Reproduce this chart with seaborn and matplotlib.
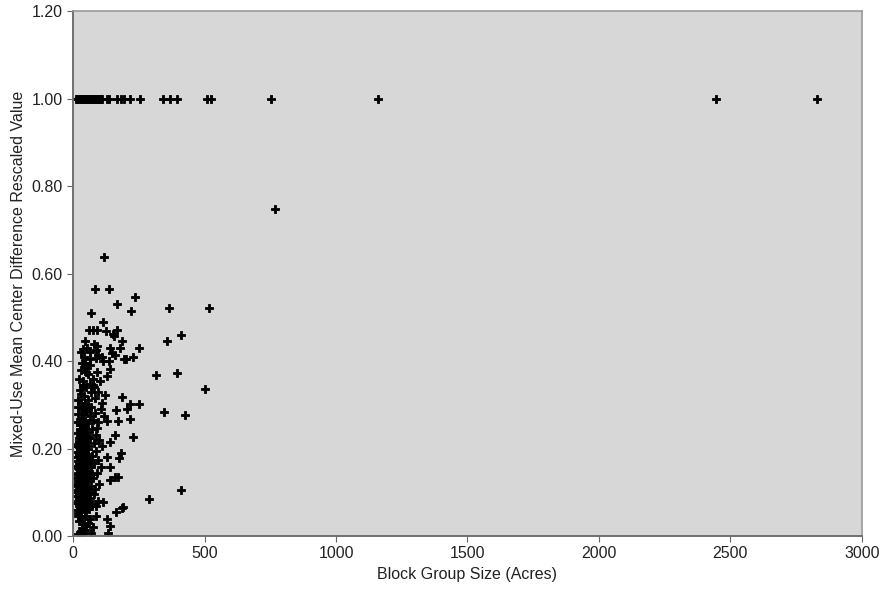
import pandas as pd
import matplotlib
matplotlib.use("Agg")
import matplotlib.pyplot as plt
import seaborn as sns
from matplotlib.ticker import FormatStrFormatter

# Block groups that hit the cap (rescaled value = 1.0)
top_x = [10, 15, 20, 25, 30, 35, 40, 45, 50, 55, 60, 65, 70, 75, 80, 85, 90, 95, 100, 105, 110,
         130, 137, 167, 180, 194, 217, 255, 342, 369, 395, 510, 525, 753, 1160, 2445, 2829]
top_y = [1.0] * len(top_x)

# Dense cluster of small block groups
cluster_x = [18, 25, 32, 38, 44, 50, 58, 22, 30, 40, 47, 62, 74, 85,
             10, 15, 20, 24, 28, 32, 35, 40, 44, 48, 52, 56, 60, 65, 70, 78, 88, 12, 18, 26, 38, 55, 95, 46,
             12, 16, 20, 24, 28, 32, 36, 40, 44, 48, 52, 56, 60, 64, 68, 75, 82, 90, 100, 14, 22, 30, 34, 42,
             46, 54, 38, 26, 72, 18,
             10, 14, 18, 22, 26, 30, 34, 38, 42, 46, 50, 54, 58, 62, 66, 72, 80, 86, 95, 105, 16, 24, 28, 36,
             44, 48, 40, 20, 32, 56,
             12, 16, 20, 24, 28, 32, 36, 40, 44, 48, 52, 58, 64, 70, 78, 88, 100, 22, 30, 38, 46, 55, 92, 110,
             15, 20, 25, 30, 35, 40, 45, 50, 56, 62, 68, 75, 84, 95, 105, 118, 18, 42, 58, 130,
             18, 24, 30, 36, 42, 50, 58, 66, 74, 82, 95, 108, 28, 46,
             22, 30, 38, 46, 55, 64, 75, 90, 35, 102,
             30, 40, 52, 64, 78, 96, 86, 45,
             14, 20, 26, 32, 38, 44, 16, 22, 28, 34, 40, 14, 20, 26, 32, 38, 18, 24, 30, 36]
cluster_y = [0.004, 0.010, 0.018, 0.006, 0.014, 0.022, 0.030, 0.035, 0.042, 0.028, 0.046, 0.040, 0.020, 0.045,
             0.075, 0.060, 0.080, 0.055, 0.090, 0.065, 0.078, 0.095, 0.058, 0.085, 0.070, 0.098, 0.062, 0.088,
             0.074, 0.095, 0.068, 0.092, 0.052, 0.072, 0.083, 0.078, 0.080, 0.065,
             0.100, 0.120, 0.140, 0.110, 0.130, 0.105, 0.145, 0.120, 0.135, 0.110, 0.148, 0.125, 0.100, 0.140,
             0.115, 0.132, 0.108, 0.145, 0.120, 0.132, 0.125, 0.118, 0.138, 0.102, 0.128, 0.112, 0.108, 0.148,
             0.142, 0.105,
             0.160, 0.180, 0.155, 0.190, 0.170, 0.185, 0.160, 0.195, 0.175, 0.152, 0.188, 0.165, 0.198, 0.172,
             0.158, 0.182, 0.166, 0.195, 0.175, 0.158, 0.192, 0.162, 0.198, 0.178, 0.190, 0.168, 0.158, 0.172,
             0.168, 0.182,
             0.210, 0.235, 0.205, 0.245, 0.220, 0.240, 0.208, 0.228, 0.248, 0.215, 0.238, 0.205, 0.225, 0.245,
             0.212, 0.232, 0.220, 0.225, 0.212, 0.242, 0.202, 0.225, 0.248, 0.205,
             0.260, 0.280, 0.255, 0.290, 0.270, 0.298, 0.262, 0.285, 0.258, 0.275, 0.295, 0.265, 0.282, 0.260,
             0.290, 0.275, 0.295, 0.278, 0.292, 0.262,
             0.310, 0.335, 0.305, 0.345, 0.320, 0.340, 0.310, 0.330, 0.345, 0.315, 0.330, 0.305, 0.325, 0.302,
             0.360, 0.380, 0.355, 0.385, 0.370, 0.390, 0.360, 0.375, 0.395, 0.355,
             0.420, 0.410, 0.430, 0.405, 0.440, 0.415, 0.425, 0.445,
             0.115, 0.125, 0.095, 0.150, 0.135, 0.175, 0.205, 0.185, 0.165, 0.215, 0.195, 0.075, 0.045, 0.115,
             0.230, 0.255, 0.145, 0.088, 0.265, 0.125]

# Scattered points to the right / above the cluster
spread_x = [118, 82, 135, 234, 168, 67, 219, 364, 518, 115, 60, 77, 92, 123, 151, 168, 155, 186, 356, 411,
            37, 62, 92, 141, 179, 250, 148, 160, 87, 110, 115, 135, 194, 200, 229, 46, 46, 48, 141, 128,
            314, 394, 37, 62, 80, 500, 122, 185, 250, 217, 346, 427, 163, 204, 217, 171, 229, 160, 141, 181,
            176, 130, 141, 160, 172, 141, 409, 290, 191, 185, 163, 115, 128, 141, 134, 68, 768]
spread_y = [0.638, 0.564, 0.564, 0.547, 0.530, 0.511, 0.514, 0.522, 0.522, 0.490, 0.472, 0.472, 0.471, 0.469,
            0.463, 0.471, 0.458, 0.446, 0.446, 0.459, 0.427, 0.421, 0.434, 0.429, 0.431, 0.430, 0.418, 0.414,
            0.408, 0.410, 0.400, 0.400, 0.404, 0.405, 0.410, 0.396, 0.387, 0.376, 0.383, 0.366, 0.368, 0.373,
            0.345, 0.348, 0.340, 0.337, 0.322, 0.317, 0.302, 0.303, 0.284, 0.277, 0.288, 0.290, 0.267, 0.262,
            0.227, 0.231, 0.215, 0.190, 0.178, 0.180, 0.157, 0.136, 0.136, 0.127, 0.105, 0.085, 0.066, 0.063,
            0.056, 0.078, 0.040, 0.023, 0.006, 0.006, 0.747]

df = pd.DataFrame({
    'Block Group Size (Acres)': top_x + cluster_x + spread_x,
    'Rescaled Value': top_y + cluster_y + spread_y,
})

sns.set_theme(style="ticks")
plt.rcParams['font.family'] = ['Liberation Sans', 'DejaVu Sans']

fig = plt.figure(figsize=(8.82, 5.91), dpi=100)
ax = fig.add_axes([0.083, 0.093, 0.894, 0.888])
ax.set_facecolor('#d7d7d7')

sns.scatterplot(data=df, x='Block Group Size (Acres)', y='Rescaled Value', ax=ax,
                marker='P', s=38, color='black', edgecolor='black', linewidth=0.6)

ax.set_xlim(0, 3000)
ax.set_ylim(0, 1.2)
ax.set_xticks(range(0, 3001, 500))
ax.set_yticks([0, 0.2, 0.4, 0.6, 0.8, 1.0, 1.2])
ax.yaxis.set_major_formatter(FormatStrFormatter('%.2f'))
ax.tick_params(labelsize=11.5, length=4, width=0.8, colors='#666666', labelcolor='#222222')

for side in ['left', 'bottom']:
    ax.spines[side].set_color('#707070')
    ax.spines[side].set_linewidth(1.4)
for side in ['right', 'top']:
    ax.spines[side].set_visible(True)
    ax.spines[side].set_color('#9a9a9a')
    ax.spines[side].set_linewidth(1.2)

ax.set_xlabel('Block Group Size (Acres)', fontsize=11.5, color='#222222')
ax.set_ylabel('Mixed-Use Mean Center Difference Rescaled Value', fontsize=11.5, color='#222222')

fig.savefig('out.png', dpi=100, facecolor='white')
